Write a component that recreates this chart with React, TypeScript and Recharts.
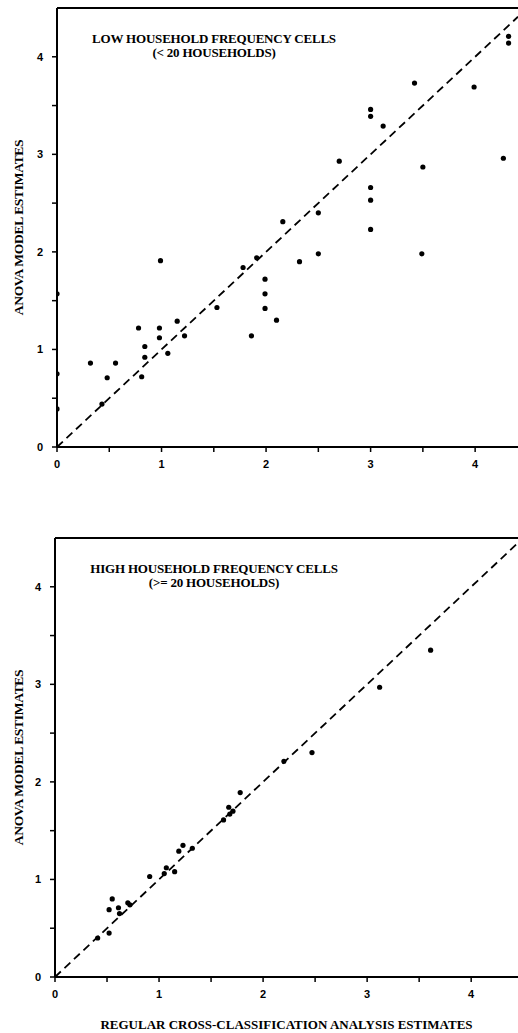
import React from "react";
import {
  ReferenceLine,
  Scatter,
  ScatterChart,
  XAxis,
  YAxis,
} from "recharts";

// Low household frequency cells (< 20 households)
const lowX = [
  0, 0, 0, 0.32, 0.48, 0.56, 0.43, 0.78, 0.84, 0.84, 0.81, 0.98, 0.98, 1.06,
  1.15, 1.22, 0.99, 1.53, 1.78, 1.91, 1.99, 1.99, 1.99, 2.1, 1.86, 2.32, 2.5,
  3.49, 2.16, 2.5, 2.7, 3.0, 3.0, 3.12, 3.42, 3.5, 3.0, 3.0, 3.0, 3.99, 4.27,
  4.32, 4.32,
];
const lowY = [
  1.57, 0.75, 0.39, 0.86, 0.71, 0.86, 0.44, 1.22, 1.03, 0.92, 0.72, 1.22, 1.12,
  0.96, 1.29, 1.14, 1.91, 1.43, 1.84, 1.94, 1.72, 1.57, 1.42, 1.3, 1.14, 1.9,
  1.98, 1.98, 2.31, 2.4, 2.93, 3.46, 3.39, 3.29, 3.73, 2.87, 2.66, 2.53, 2.23,
  3.69, 2.96, 4.21, 4.14,
];

// High household frequency cells (>= 20 households)
const highX = [
  0.41, 0.52, 0.52, 0.55, 0.61, 0.62, 0.7, 0.72, 0.91, 1.07, 1.05, 1.15, 1.19,
  1.23, 1.32, 1.62, 1.67, 1.68, 1.71, 1.78, 2.2, 2.47, 3.12, 3.61,
];
const highY = [
  0.4, 0.45, 0.69, 0.8, 0.71, 0.65, 0.76, 0.74, 1.03, 1.12, 1.06, 1.08, 1.29,
  1.35, 1.32, 1.61, 1.74, 1.67, 1.7, 1.89, 2.21, 2.3, 2.97, 3.35,
];

const ticks = [0, 0.5, 1, 1.5, 2, 2.5, 3, 3.5, 4];
const Y_MAX = 4.5;

const zip = (xs: number[], ys: number[]) => xs.map((x, i) => ({ x, y: ys[i] }));

const tickStyle = {
  fill: "#000",
  fontSize: 11,
  fontWeight: 700,
  fontFamily: "'Liberation Sans', Arial, sans-serif",
};
const labelFont = "'Liberation Serif', 'Times New Roman', serif";

const intOnly = (v: number) => (Number.isInteger(v) ? String(v) : "");

const Dot = (p: any) => <circle cx={p.cx} cy={p.cy} r={2.6} fill="#000" />;

function Panel({
  data,
  xMax,
  height,
  top,
  axisW,
  xAxisH,
  xLabel,
}: {
  data: { x: number; y: number }[];
  xMax: number;
  height: number;
  top: number;
  axisW: number;
  xAxisH: number;
  xLabel?: string;
}) {
  return (
    <ScatterChart
      width={518}
      height={height}
      margin={{ top, right: 0, bottom: 0, left: 0 }}
    >
      <XAxis
        type="number"
        dataKey="x"
        domain={[0, xMax]}
        ticks={ticks}
        tickFormatter={intOnly}
        tick={tickStyle}
        tickSize={5}
        tickMargin={8}
        height={xAxisH}
        axisLine={{ stroke: "#000", strokeWidth: 2 }}
        tickLine={{ stroke: "#000", strokeWidth: 1.5 }}
        allowDataOverflow
        label={
          xLabel
            ? {
                value: xLabel,
                position: "insideBottom",
                offset: 4,
                style: {
                  fill: "#000",
                  fontSize: 13,
                  fontWeight: 700,
                  fontFamily: labelFont,
                },
              }
            : undefined
        }
      />
      <YAxis
        type="number"
        dataKey="y"
        domain={[0, Y_MAX]}
        ticks={ticks}
        tickFormatter={intOnly}
        tick={tickStyle}
        tickSize={5}
        tickMargin={9}
        width={axisW}
        axisLine={{ stroke: "#000", strokeWidth: 2 }}
        tickLine={{ stroke: "#000", strokeWidth: 1.5 }}
        allowDataOverflow
        label={{
          value: "ANOVA MODEL ESTIMATES",
          angle: -90,
          position: "insideLeft",
          offset: 18,
          style: {
            textAnchor: "middle",
            fill: "#000",
            fontSize: 13.5,
            fontWeight: 700,
            letterSpacing: -0.3,
            fontFamily: labelFont,
          },
        }}
      />
      <ReferenceLine y={Y_MAX} stroke="#000" strokeWidth={2} />
      <ReferenceLine
        segment={[
          { x: 0, y: 0 },
          { x: xMax, y: xMax },
        ]}
        stroke="#000"
        strokeWidth={1.8}
        strokeDasharray="8 5"
      />
      <Scatter data={data} shape={Dot} isAnimationActive={false} />
    </ScatterChart>
  );
}

const titleStyle: React.CSSProperties = {
  position: "absolute",
  width: 300,
  textAlign: "center",
  fontFamily: labelFont,
  fontWeight: 700,
  fontSize: 13,
  lineHeight: "14px",
  letterSpacing: -0.2,
  color: "#000",
};

export default function App() {
  return (
    <div
      style={{
        position: "absolute",
        left: 0,
        top: 0,
        width: 518,
        height: 1033,
        background: "#fff",
        overflow: "hidden",
      }}
    >
      <div style={{ position: "absolute", left: 0, top: 0 }}>
        <Panel
          data={zip(lowX, lowY)}
          xMax={4.41}
          height={490}
          top={8}
          axisW={57}
          xAxisH={43}
        />
      </div>
      <div style={{ position: "absolute", left: 0, top: 490 }}>
        <Panel
          data={zip(highX, highY)}
          xMax={4.45}
          height={543}
          top={48}
          axisW={55}
          xAxisH={56}
          xLabel="REGULAR CROSS-CLASSIFICATION ANALYSIS ESTIMATES"
        />
      </div>
      <div style={{ ...titleStyle, left: 64, top: 32 }}>
        LOW HOUSEHOLD FREQUENCY CELLS
        <br />
        (&lt; 20 HOUSEHOLDS)
      </div>
      <div style={{ ...titleStyle, left: 64, top: 562 }}>
        HIGH HOUSEHOLD FREQUENCY CELLS
        <br />
        (&gt;= 20 HOUSEHOLDS)
      </div>
    </div>
  );
}
